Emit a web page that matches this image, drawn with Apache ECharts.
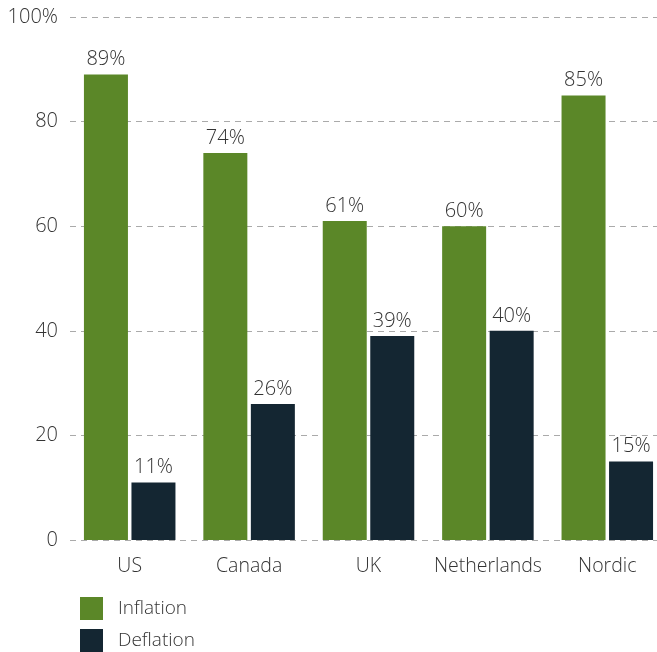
<!DOCTYPE html>
<html><head><meta charset="utf-8">
<script src="https://cdn.jsdelivr.net/npm/echarts@6/dist/echarts.min.js"></script>
<style>html,body{margin:0;padding:0;background:#fff}#c{width:657px;height:652px}</style>
</head><body><div id="c"></div>
<script>
const categories = ["US", "Canada", "UK", "Netherlands", "Nordic"];
const inflation = [89, 74, 61, 60, 85];
const deflation = [11, 26, 39, 40, 15];
const seriesNames = ["Inflation", "Deflation"];
const FONT = "Open Sans";
const chart = echarts.init(document.getElementById('c'), null, {renderer: 'canvas'});
const labelCfg = {show: true, position: 'top', distance: 5, color: '#333', fontFamily: FONT, fontWeight: 300, fontSize: 20, formatter: '{c}%'};
const legendBase = {
  orient: 'vertical', left: 80, itemWidth: 23, itemHeight: 23, padding: 0,
  icon: 'rect',
  textStyle: {color: '#333', fontFamily: FONT, fontWeight: 300, fontSize: 19, padding: [0, 0, 0, 10]}
};
chart.setOption({
  animation: false,
  textStyle: {fontFamily: FONT},
  grid: {left: 70, width: 597, top: 17, bottom: 112, containLabel: false, outerBoundsMode: 'none'},
  legend: [
    Object.assign({}, legendBase, {top: 597, data: [seriesNames[0]]}),
    Object.assign({}, legendBase, {top: 629, data: [seriesNames[1]]})
  ],
  xAxis: {
    type: 'category', data: categories,
    axisLine: {show: false}, axisTick: {show: false},
    axisLabel: {interval: 0, color: '#333', fontFamily: FONT, fontWeight: 300, fontSize: 19.5, margin: 16}
  },
  yAxis: {
    type: 'value', min: 0, max: 100, interval: 20,
    axisLine: {show: false}, axisTick: {show: false},
    axisLabel: {color: '#333', fontFamily: FONT, fontWeight: 300, fontSize: 20, margin: 12,
      formatter: v => v === 100 ? '100%' : String(v)},
    splitLine: {lineStyle: {color: '#aaa', type: [6, 5], width: 1.2}}
  },
  series: [
    {name: seriesNames[0], type: 'bar', data: inflation, barWidth: 44, barGap: '8%', itemStyle: {color: '#5b8728'}, label: labelCfg},
    {name: seriesNames[1], type: 'bar', data: deflation, barWidth: 44, itemStyle: {color: '#142632'}, label: labelCfg}
  ]
});
</script></body></html>
